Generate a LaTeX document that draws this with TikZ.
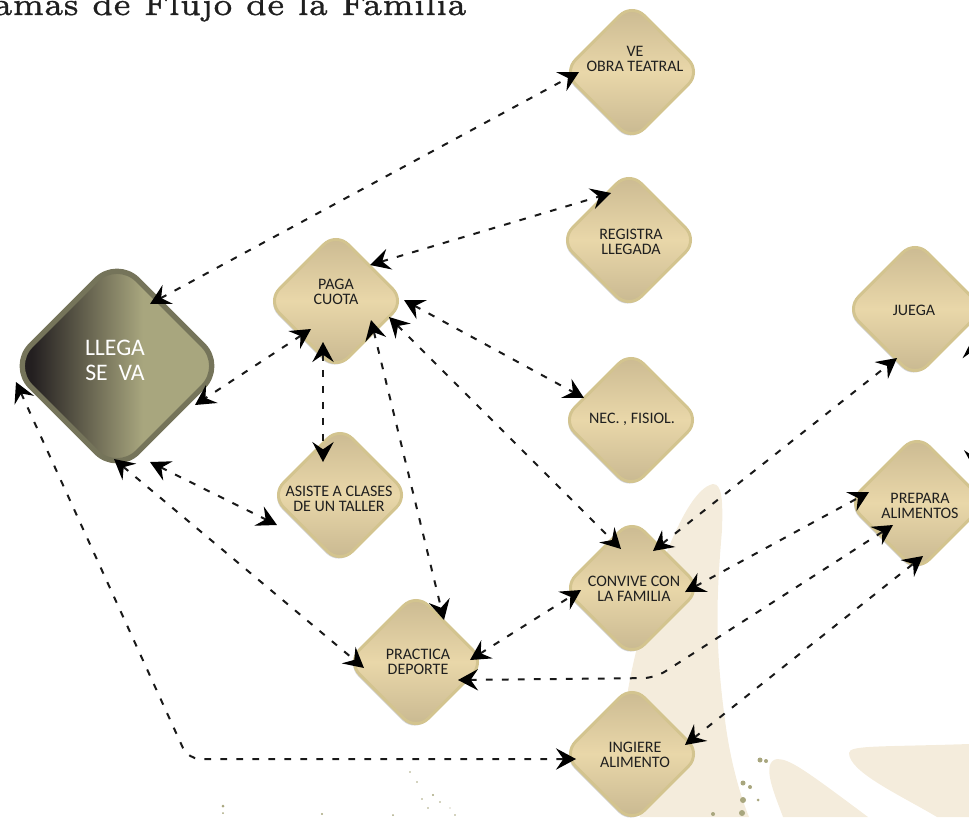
\documentclass[tikz,border=0pt]{standalone}
\usepackage{fontspec}
\usepackage{tikz}
\usetikzlibrary{arrows.meta}
\usetikzlibrary{shapes.geometric}
\usetikzlibrary{shadows}
\setmainfont{Carlito}
\font\headfont={[lmroman6-regular]:embolden=1.2} at 23.7pt
\definecolor{sand}{HTML}{F4ECDC}
\definecolor{moss}{HTML}{A8A67E}
\definecolor{carbon}{HTML}{231F20}
\pgfdeclarehorizontalshading{llegashade}{100bp}{color(0bp)=(carbon); color(30bp)=(carbon); color(56bp)=(moss); color(100bp)=(moss)}
\tikzset{
  softshadow/.style={
    general shadow={shadow xshift=-1pt,shadow yshift=-1.5pt,scale=1.08,fill=black,opacity=.06},
    general shadow={shadow xshift=-1pt,shadow yshift=-1.5pt,scale=1.05,fill=black,opacity=.1},
    general shadow={shadow xshift=-.5pt,shadow yshift=-1pt,scale=1.025,fill=black,opacity=.16}},
  estado/.style={diamond,aspect=1,inner sep=0pt,minimum width=104pt,minimum height=104pt,rounded corners=13pt,
    softshadow,draw={rgb,255:red,211;green,196;blue,143},line width=2.2pt,
    top color={rgb,255:red,201;green,184;blue,144},bottom color={rgb,255:red,198;green,182;blue,143},middle color={rgb,255:red,233;green,215;blue,169}},
  rotulo/.style={font=\fontsize{12pt}{11.6pt}\selectfont,text=black!88,align=center,inner sep=0pt},
  flujo/.style={line width=1.5pt,dash pattern=on 5pt off 7pt,black!90,
    {Stealth[length=15pt,width=16pt,inset=5.5pt,black]}-{Stealth[length=15pt,width=16pt,inset=5.5pt,black]}},
}
\begin{document}
\begin{tikzpicture}[x=0.75pt,y=-0.75pt]
\useasboundingbox (0,0) rectangle (969,817);

%Shape: background leaves
\fill [sand] (713,484) .. controls (722,484) and (723,500) .. (722,530) .. controls (717,590) and (714,640) .. (725,720) .. controls (730,760) and (740,795) .. (749,817) -- (640,817) -- (628,690) .. controls (640,620) and (680,490) .. (713,484) -- cycle ;
\fill [sand] (777,759) .. controls (790,759) and (805,770) .. (868,817) -- (783,817) .. controls (775,795) and (760,762) .. (777,759) -- cycle ;
\fill [sand] (849,753) .. controls (849,745) and (880,747) .. (969,744) -- (969,817) -- (937,817) .. controls (900,795) and (849,772) .. (849,753) -- cycle ;

%Shape: speckles
\foreach \spx/\spy/\spr in {743/783/2.5,750/787/2,743/800/3,758/800/1.5,713/814/2,742/813/3,760/760/2.5,766/761/2,223/806/1.5,223/813/1,322/814/1.2,410/772/.8,417/782/.8,433/795/1.2,440/802/.8,422/799/.8,428/808/.8,450/808/.7,455/815/.8,393/815/1}
  \fill [moss] (\spx,\spy) circle [radius=\spr];

% Text Node
\node (head) [anchor=base west,inner sep=0pt,text=black!88] at (-7,15) {\headfont amas de Flujo de la Familia};

%Shape: states
\node (ve) [estado] at (632,72) {};
\node (reg) [estado] at (629,240) {};
\node (nec) [estado] at (631,420) {};
\node (jue) [estado] at (915,309) {};
\node (pre) [estado] at (917,503) {};
\node (con) [estado] at (632,588) {};
\node (ing) [estado] at (632,754) {};
\node (pag) [estado] at (336,301) {};
\node (asi) [estado] at (340,495) {};
\node (dep) [estado] at (416,662) {};
\node (lle) [diamond,aspect=1,inner sep=0pt,minimum width=162pt,minimum height=162pt,rounded corners=22pt,
  softshadow,draw={rgb,255:red,117;green,116;blue,90},line width=4pt,shading=llegashade] at (117,366) {};

% Text Node
\node (vetx) [rotulo] at (635,59) {VE\\OBRA TEATRAL};
\node (regtx) [rotulo] at (631,242) {REGISTRA\\LLEGADA};
\node (nectx) [rotulo] at (632,419) {NEC. , FISIOL.};
\node (juetx) [rotulo] at (914,310) {JUEGA};
\node (pretx) [rotulo] at (920,506) {PREPARA\\ALIMENTOS};
\node (contx) [rotulo] at (634,589) {CONVIVE CON\\LA FAMILIA};
\node (ingtx) [rotulo] at (635,755) {INGIERE\\ALIMENTO};
\node (pagtx) [rotulo] at (336,292) {PAGA\\CUOTA};
\node (asitx) [rotulo] at (339,499) {ASISTE A CLASES\\DE UN TALLER};
\node (deptx) [rotulo] at (418,662) {PRACTICA\\DEPORTE};
\node (lletx) [font=\fontsize{17.8pt}{18.7pt}\selectfont,text=white,align=center,inner sep=0pt] at (115,360) {LLEGA\\SE\ \ VA};

%Straight Lines
\draw [flujo] ([shift={(33,-62)}]lle.center) -- ([shift={(-53,0)}]ve.center);
\draw [flujo] ([shift={(34,-36)}]pag.center) -- ([shift={(-18,-47)}]reg.center);
\draw [flujo] ([shift={(68,-1)}]pag.center) -- ([shift={(-47,-22)}]nec.center);
\draw [flujo] ([shift={(-25,28)}]pag.center) -- ([shift={(78,39)}]lle.center);
\draw [flujo] ([shift={(-13,41)}]pag.center) -- ([shift={(-17,-33)}]asi.center);
\draw [flujo] ([shift={(35,19)}]pag.center) -- ([shift={(28,-42)}]dep.center);
\draw [flujo] ([shift={(53,16)}]pag.center) -- ([shift={(-11,-39)}]con.center);
\draw [flujo] ([shift={(33,96)}]lle.center) -- ([shift={(-63,30)}]asi.center);
\draw [flujo] ([shift={(-3,93)}]lle.center) -- ([shift={(-52,6)}]dep.center);
\draw [flujo] ([shift={(54,-2)}]dep.center) -- ([shift={(-51,2)}]con.center);
\draw [flujo] ([shift={(21,-37)}]con.center) -- ([shift={(-18,49)}]jue.center);
\draw [flujo] ([shift={(53,4)}]con.center) -- ([shift={(-48,-11)}]pre.center);
\draw [flujo] ([shift={(53,-9)}]ing.center) -- ([shift={(6,53)}]pre.center);
\draw [flujo] ([shift={(58,29)}]jue.center) -- ([shift={(58,-33)}]pre.center);

%Lines with a corner
\coordinate (esq1) at (188,759);
\coordinate (esq2) at (655,678);
\draw [flujo,rounded corners=9pt] ([shift={(-101,16)}]lle.center) -- (esq1) -- ([shift={(-56,5)}]ing.center);
\draw [flujo,rounded corners=9pt] ([shift={(42,18)}]dep.center) -- (esq2) -- ([shift={(-24,22)}]pre.center);

\end{tikzpicture}
\end{document}
